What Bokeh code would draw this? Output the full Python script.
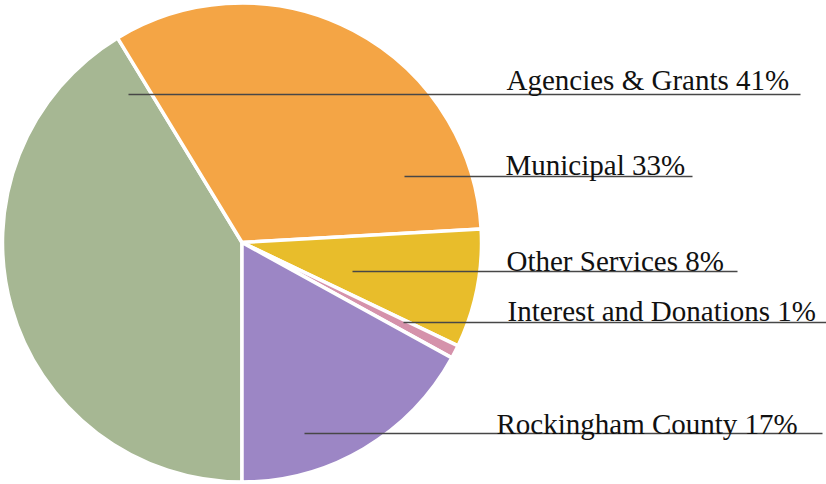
import math
from bokeh.plotting import figure
from bokeh.models import ColumnDataSource, Range1d
from bokeh.core.properties import value
from bokeh.embed import file_html
from bokeh.resources import INLINE

# ---- data ----
categories = ["Agencies & Grants", "Municipal", "Other Services",
              "Interest and Donations", "Rockingham County"]
shares = [41.3, 32.8, 8.0, 0.9, 17.0]
colors = ["#a6b793", "#f4a545", "#e8bd2b", "#d592ab", "#9c86c5"]

# ---- label layout (reference pixel coords: x, text y, leader y, leader start x, leader end x) ----
label_x = [506, 505, 506, 507, 496]
label_base_y = [79, 164, 260, 310, 423]
leader_y = [94, 176, 271, 322, 433]
leader_x0 = [128, 404, 352, 403, 304]
leader_x1 = [800, 692, 737, 826, 822]

W, H = 826, 484
p = figure(width=W, height=H, output_backend="svg", toolbar_location=None,
           x_range=Range1d(0, W), y_range=Range1d(0, H),
           min_border=0)
p.axis.visible = False
p.grid.visible = False
p.outline_line_color = None
p.background_fill_color = "white"
p.border_fill_color = "white"

def fy(y):
    return H - y

cx, cy, r = 241.5, fy(242), 239.5
total = sum(shares)
starts, ends = [], []
acc = 0.0
for s in shares:
    starts.append(-math.pi / 2 - 2 * math.pi * acc / total)
    acc += s
    ends.append(-math.pi / 2 - 2 * math.pi * acc / total)

src = ColumnDataSource(dict(start=starts, end=ends, color=colors))
p.wedge(x=cx, y=cy, radius=r, start_angle="start", end_angle="end",
        direction="clock", fill_color="color", line_color="white",
        line_width=3.5, source=src)

p.segment(x0=leader_x0, y0=[fy(v) for v in leader_y],
          x1=leader_x1, y1=[fy(v) for v in leader_y],
          line_color="#474747", line_width=1.3)

texts = [f"{c} {round(s / total * 100)}%" for c, s in zip(categories, shares)]
p.text(x=label_x, y=[fy(v) for v in label_base_y], text=texts,
       text_font=value("Liberation Serif"), text_font_size="29px",
       text_color="#111111", text_baseline="alphabetic", text_align="left")

open("out.html", "w").write(file_html(p, INLINE))
